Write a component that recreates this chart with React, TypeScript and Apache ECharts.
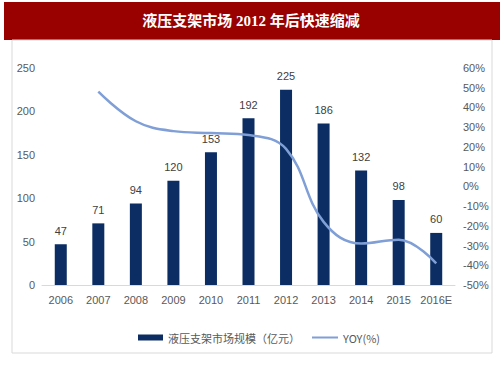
import React, { useEffect, useRef } from "react";
import * as echarts from "echarts";

const categories = ["2006", "2007", "2008", "2009", "2010", "2011", "2012", "2013", "2014", "2015", "2016E"];
const marketSize = [47, 71, 94, 120, 153, 192, 225, 186, 132, 98, 60];
const yoy: (number | null)[] = [null, 48, 33, 28, 27, 26, 19, -18, -29, -27, -39];
const leftTicks = [0, 50, 100, 150, 200, 250];
const rightTicks = [-50, -40, -30, -20, -10, 0, 10, 20, 30, 40, 50, 60];

const FONT = "'Liberation Sans', Arial, sans-serif";
const BAR_NAME = "液压支架市场规模（亿元）";
const LINE_NAME = "YOY(%)";

export default function App() {
  const ref = useRef<HTMLDivElement>(null);
  useEffect(() => {
    if (!ref.current) return;
    const chart = echarts.init(ref.current, null, { renderer: "svg" });
    const legendText = { color: "#595959", fontSize: 11, fontFamily: "'Noto Sans CJK SC', 'Liberation Sans', sans-serif" };
    chart.setOption({
      animation: false,
      backgroundColor: "#ffffff",
      graphic: [
        { type: "rect", shape: { x: 4, y: 2, width: 496, height: 38 }, style: { fill: "#990000" }, z: -10 },
        { type: "rect", shape: { x: 12, y: 40, width: 480, height: 313 }, style: { fill: "#ffffff", stroke: "#d9d9d9", lineWidth: 1 }, z: -10 },
        {
          type: "text",
          x: 251,
          y: 21,
          style: {
            text: "液压支架市场 2012 年后快速缩减",
            fill: "#ffffff",
            font: "bold 15px 'Liberation Serif', 'Noto Sans CJK SC', serif",
            textAlign: "center",
            textVerticalAlign: "middle",
          },
        },
      ],
      grid: { left: 42, right: 48, top: 68, bottom: 93 },
      legend: [
        {
          left: 133,
          top: 327,
          itemWidth: 25,
          itemHeight: 6,
          textStyle: legendText,
          data: [{ name: BAR_NAME, icon: "rect", itemStyle: { color: "#0b2d63" } }],
        },
        {
          left: 307,
          top: 327,
          itemWidth: 26,
          itemHeight: 2,
          textStyle: legendText,
          data: [{ name: LINE_NAME, icon: "rect", itemStyle: { color: "#7f9fd6" } }],
        },
      ],
      xAxis: {
        type: "category",
        data: categories,
        axisLine: { lineStyle: { color: "#d9d9d9" } },
        axisTick: { show: false },
        axisLabel: { color: "#595959", fontSize: 11, fontFamily: FONT, margin: 9, interval: 0 },
      },
      yAxis: [
        {
          type: "value",
          min: leftTicks[0],
          max: leftTicks[leftTicks.length - 1],
          interval: 50,
          splitLine: { show: false },
          axisLine: { show: false },
          axisTick: { show: false },
          axisLabel: { color: "#595959", fontSize: 11, fontFamily: FONT, margin: 7 },
        },
        {
          type: "value",
          min: rightTicks[0],
          max: rightTicks[rightTicks.length - 1],
          interval: 10,
          splitLine: { show: false },
          axisLine: { show: false },
          axisTick: { show: false },
          axisLabel: { color: "#595959", fontSize: 11, fontFamily: FONT, margin: 8, formatter: "{value}%" },
        },
      ],
      series: [
        {
          name: BAR_NAME,
          type: "bar",
          data: marketSize,
          barWidth: 12,
          itemStyle: { color: "#0b2d63" },
          label: { show: true, position: "top", distance: 8, color: "#404040", fontSize: 11, fontFamily: FONT },
        },
        {
          name: LINE_NAME,
          type: "line",
          yAxisIndex: 1,
          data: yoy,
          smooth: 0.4,
          showSymbol: false,
          symbol: "none",
          lineStyle: { color: "#7f9fd6", width: 2.5 },
          itemStyle: { color: "#7f9fd6" },
        },
      ],
    });
    return () => chart.dispose();
  }, []);
  return <div ref={ref} style={{ position: "fixed", left: 0, top: 0, width: 503, height: 378 }} />;
}
